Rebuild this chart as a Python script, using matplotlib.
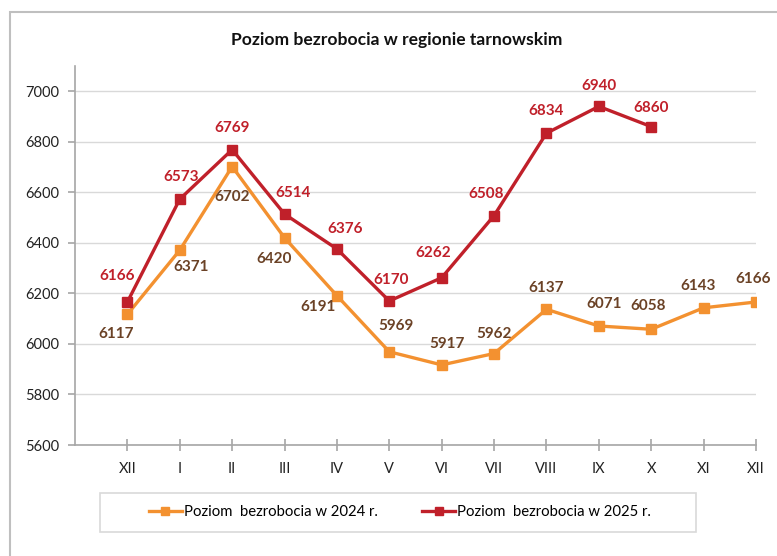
import matplotlib.pyplot as plt
from matplotlib.patches import Rectangle

months = ["XII", "I", "II", "III", "IV", "V", "VI", "VII", "VIII", "IX", "X", "XI", "XII"]
y2024 = [6117, 6371, 6702, 6420, 6191, 5969, 5917, 5962, 6137, 6071, 6058, 6143, 6166]
y2025 = [6166, 6573, 6769, 6514, 6376, 6170, 6262, 6508, 6834, 6940, 6860]

# label offsets in pixels (dx, dy)
off2024 = [(-11, -20), (11, -17), (0, -30), (-10, -21), (-19, -11), (7, 26), (5, 21),
           (0, 20), (0, 21), (5, 22), (-3, 23), (-6, 22), (-3, 23)]
off2025 = [(-10, 26), (1, 22), (0, 22), (9, 21), (8, 20), (2, 21), (-8, 25),
           (-8, 22), (0, 22), (0, 20), (0, 19)]

orange = "#F39130"
red = "#C0202A"
brown = "#6B4226"

plt.rcParams['font.family'] = ['Lato', 'DejaVu Sans']

fig = plt.figure(figsize=(7.77, 5.56), dpi=100)
W, H = 777, 556
ax = fig.add_axes([75 / W, 1 - 445 / H, (756 - 75) / W, (445 - 66) / H])

x24 = list(range(len(y2024)))
x25 = list(range(len(y2025)))
ax.plot(x24, y2024, color=orange, lw=2.4, marker="s", ms=7, label="Poziom  bezrobocia w 2024 r.", zorder=3)
ax.plot(x25, y2025, color=red, lw=2.4, marker="s", ms=7, label="Poziom  bezrobocia w 2025 r.", zorder=4)

for xi, yi, (dx, dy) in zip(x24, y2024, off2024):
    ax.annotate(str(yi), (xi, yi), xytext=(dx, dy), textcoords="offset pixels",
                ha="center", va="center", fontsize=11, fontweight="bold", color=brown, zorder=5)
for xi, yi, (dx, dy) in zip(x25, y2025, off2025):
    ax.annotate(str(yi), (xi, yi), xytext=(dx, dy), textcoords="offset pixels",
                ha="center", va="center", fontsize=11, fontweight="bold", color=red, zorder=5)

ax.set_xlim(-1, 12)
ax.set_ylim(5600, 7100)
ax.set_yticks(range(5600, 7001, 200))
ax.set_xticks(x24)
ax.set_xticklabels(months)
ax.yaxis.grid(True, color="#D9D9D9", lw=1)
ax.set_axisbelow(True)

for s in ["top", "right"]:
    ax.spines[s].set_visible(False)
for s in ["left", "bottom"]:
    ax.spines[s].set_color("#A6A6A6")
    ax.spines[s].set_linewidth(1.2)
ax.tick_params(axis="x", direction="inout", length=8, color="#A6A6A6", width=1.2, pad=8, labelsize=10.5, labelcolor="#222222")
ax.tick_params(axis="y", direction="out", length=5, color="#A6A6A6", width=1.2, pad=6, labelsize=10.5, labelcolor="#222222")

fig.text(397 / W, 1 - 40 / H, "Poziom bezrobocia w regionie tarnowskim", ha="center", va="center",
         fontsize=12.6, fontweight="bold", color="#111111")

# outer chart frame and legend frame
fig.patches.append(Rectangle((10 / W, -0.1), 1.2, 1 - 12 / H + 0.1, transform=fig.transFigure,
                             fill=False, edgecolor="#BFBFBF", lw=1.5))
fig.patches.append(Rectangle((100 / W, 1 - 532 / H), 596 / W, 39 / H, transform=fig.transFigure,
                             fill=False, edgecolor="#D9D9D9", lw=1.2))

fig.legend(loc="center", bbox_to_anchor=(400 / W, 1 - 512 / H), ncol=2, frameon=False,
           fontsize=10.7, handlelength=2.2, handletextpad=0.15, columnspacing=3.0, markerscale=0.9)

fig.savefig("out.png", dpi=100, facecolor="white")
